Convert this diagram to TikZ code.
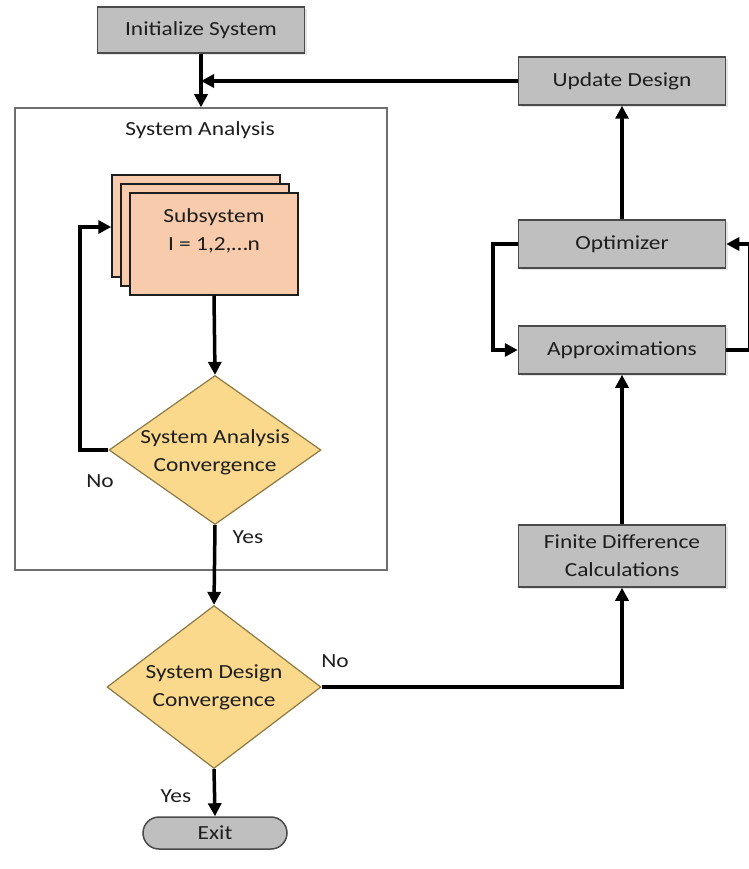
\documentclass[tikz,border=0pt]{standalone}
\usepackage{fontspec}
\setmainfont[FakeStretch=1.17]{Carlito}
\usetikzlibrary{arrows.meta,shapes.geometric,shadows}
\definecolor{boxgray}{HTML}{BFBFBF}
\definecolor{boxline}{HTML}{4A4A4A}
\definecolor{peach}{HTML}{F8CBAD}
\definecolor{gold}{HTML}{FAD88C}
\definecolor{goldline}{HTML}{8C7A45}
\definecolor{ink}{HTML}{1E1E1E}
\tikzset{
  txt/.style={font=\fontsize{20}{28}\selectfont, text=ink, align=center, inner sep=0pt},
  graybox/.style={draw=boxline, line width=1.5pt, fill=boxgray, minimum width=207pt, minimum height=48pt, inner sep=0pt, txt,
    drop shadow={opacity=0.2, shadow xshift=2pt, shadow yshift=-2pt}},
  subbox/.style={draw=ink, line width=1.5pt, fill=peach, minimum width=168pt, minimum height=102pt, inner sep=0pt},
  decision/.style={diamond, draw=goldline, line width=1.2pt, fill=gold, inner sep=0pt},
  arr/.style={line width=3.5pt, -{Triangle[length=13pt,width=13pt]}},
}
\begin{document}
\begin{tikzpicture}[x=1pt, y=-1pt]
\useasboundingbox (0,0) rectangle (748,869);
\fill[white] (0,0) rectangle (748,869);

% outer container for the analysis loop
\node[draw=boxline!80, line width=1.5pt, minimum width=372pt, minimum height=462pt, inner sep=0pt] (sa) at (201,339) {};
\node[txt] (satitle) at (200,130) {System Analysis};

% left column
\node[graybox, minimum width=207pt, minimum height=46pt] (init) at (201,30) {Initialize System};

\node[subbox] (sub3) at (196,226) {};
\node[subbox] (sub2) at (205,235) {};
\node[subbox] (sub1) at (214,244) {};
\node[txt] (subtxt) at (214,231) {Subsystem\\I = 1,2,…n};

\node[decision, minimum width=212pt, minimum height=149pt] (d1) at (215,450) {};
\node[txt] (d1txt) at (215,452) {System Analysis\\Convergence};

\node[decision, minimum width=214pt, minimum height=163pt] (d2) at (214,687) {};
\node[txt] (d2txt) at (214,687) {System Design\\Convergence};

\node[draw=boxline, line width=1.5pt, fill=boxgray, rounded corners=16pt, minimum width=144pt, minimum height=32pt, inner sep=0pt, txt] (exit) at (215,833) {Exit};

% right column
\node[graybox] (upd) at (622,81) {Update Design};
\node[graybox] (opt) at (622,244) {Optimizer};
\node[graybox] (approx) at (622,350) {Approximations};
\node[graybox, minimum height=62pt] (fd) at (622,556) {Finite Difference\\Calculations};

% connector labels
\node[txt] (lno1) at (100,481) {No};
\node[txt] (lyes1) at (248,537) {Yes};
\node[txt] (lno2) at (335,661) {No};
\node[txt] (lyes2) at (176,796) {Yes};

% junction points of the loops
\coordinate (join) at (init.south |- upd.west);
\coordinate (lft) at (80,450);
\coordinate (lfttop) at (80,227);
\coordinate (optl) at (493,244);
\coordinate (optlb) at (493,350);
\coordinate (rgt) at (750,350);
\coordinate (rgttop) at (750,244);
\coordinate (turn) at (fd.south |- d2.east);

% connectors
\draw[arr] (init.south) -- (init.south |- sa.north);
\draw[arr] (upd.west) -- (join);
\draw[arr] (sub1.south) -- (d1.north);
\draw[arr] (d1.west) -- (lft) -- (lfttop) -- (sub3.west |- lfttop);
\draw[arr] (d1.south) -- (d2.north);
\draw[arr] (d2.south) -- (exit.north);
\draw[arr] (d2.east) -- (turn) -- (fd.south);
\draw[arr] (fd.north) -- (approx.south);
\draw[arr] (opt.north) -- (upd.south);
\draw[arr] (opt.west) -- (optl) -- (optlb) -- (approx.west);
\draw[arr] (approx.east) -- (rgt) -- (rgttop) -- (opt.east);
\end{tikzpicture}
\end{document}
